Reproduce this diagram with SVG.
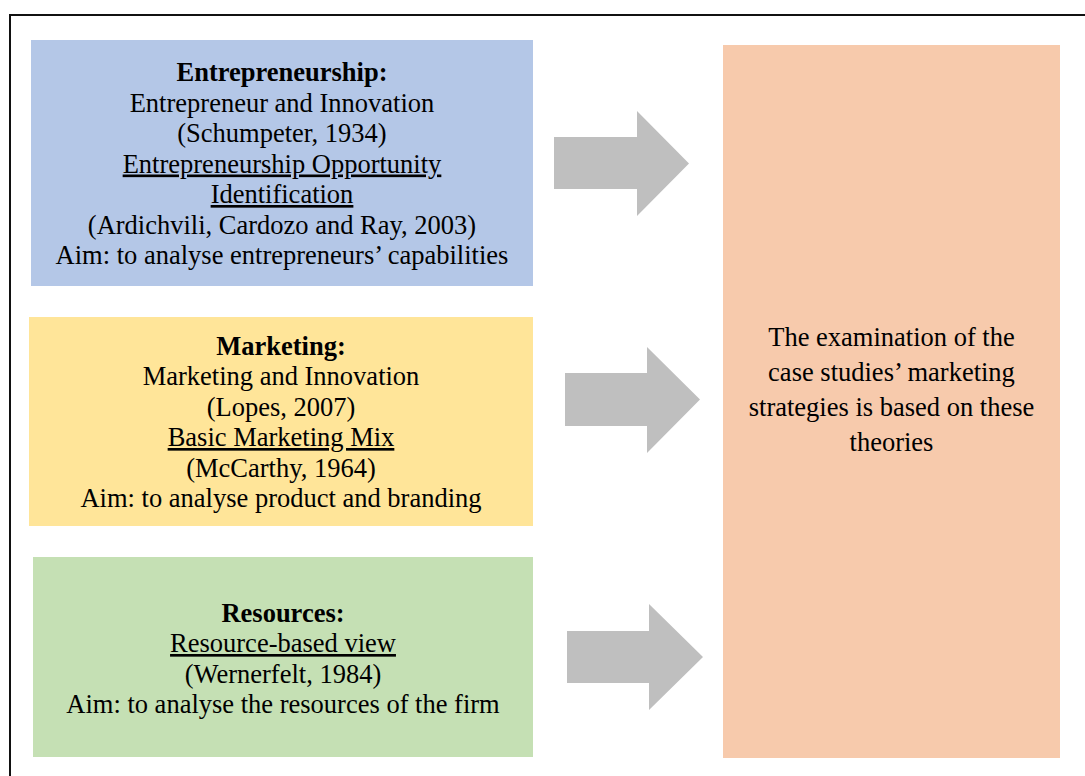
<svg xmlns="http://www.w3.org/2000/svg" width="1085" height="776" viewBox="0 0 1085 776">
<style>
text{font-family:"Liberation Serif","Times New Roman",serif;font-size:26.5px;fill:#000;text-anchor:middle}
.b{font-weight:bold}
.u{text-decoration:underline}
.arrow{fill:#BFBFBF}
</style>
<rect width="1085" height="776" fill="#fff"/>
<rect id="frame" x="10" y="15" width="1100" height="800" fill="none" stroke="#111" stroke-width="2"/>
<g id="entrepreneurship">
<rect x="31" y="40" width="502" height="246" fill="#B4C7E7"/>
<text class="b" x="282" y="81">Entrepreneurship:</text>
<text x="282" y="111.5">Entrepreneur and Innovation</text>
<text x="282" y="142">(Schumpeter, 1934)</text>
<text class="u" x="282" y="172.5">Entrepreneurship Opportunity</text>
<text class="u" x="282" y="203">Identification</text>
<text x="282" y="233.5">(Ardichvili, Cardozo and Ray, 2003)</text>
<text x="282" y="264">Aim: to analyse entrepreneurs’ capabilities</text>
</g>
<g id="marketing">
<rect x="29" y="317" width="504" height="209" fill="#FFE599"/>
<text class="b" x="281" y="354.5">Marketing:</text>
<text x="281" y="385">Marketing and Innovation</text>
<text x="281" y="415.5">(Lopes, 2007)</text>
<text class="u" x="281" y="446">Basic Marketing Mix</text>
<text x="281" y="476.5">(McCarthy, 1964)</text>
<text x="281" y="507">Aim: to analyse product and branding</text>
</g>
<g id="resources">
<rect x="33" y="557" width="500" height="200" fill="#C5E0B4"/>
<text class="b" x="283" y="621.5">Resources:</text>
<text class="u" x="283" y="652">Resource-based view</text>
<text x="283" y="682.5">(Wernerfelt, 1984)</text>
<text x="283" y="713">Aim: to analyse the resources of the firm</text>
</g>
<g id="conclusion">
<rect x="723" y="45" width="337" height="713" fill="#F7CAAC"/>
<text x="891.5" y="346">The examination of the</text>
<text x="891.5" y="381">case studies’ marketing</text>
<text x="891.5" y="416">strategies is based on these</text>
<text x="891.5" y="451">theories</text>
</g>
<g id="connectors">
<polygon class="arrow" points="554,137 637,137 637,111 689,163.5 637,216 637,189 554,189"/>
<polygon class="arrow" points="565,373 647,373 647,347 700,399.5 647,453 647,426 565,426"/>
<polygon class="arrow" points="567,631 649,631 649,604 703,657 649,710 649,683 567,683"/>
</g>
</svg>
